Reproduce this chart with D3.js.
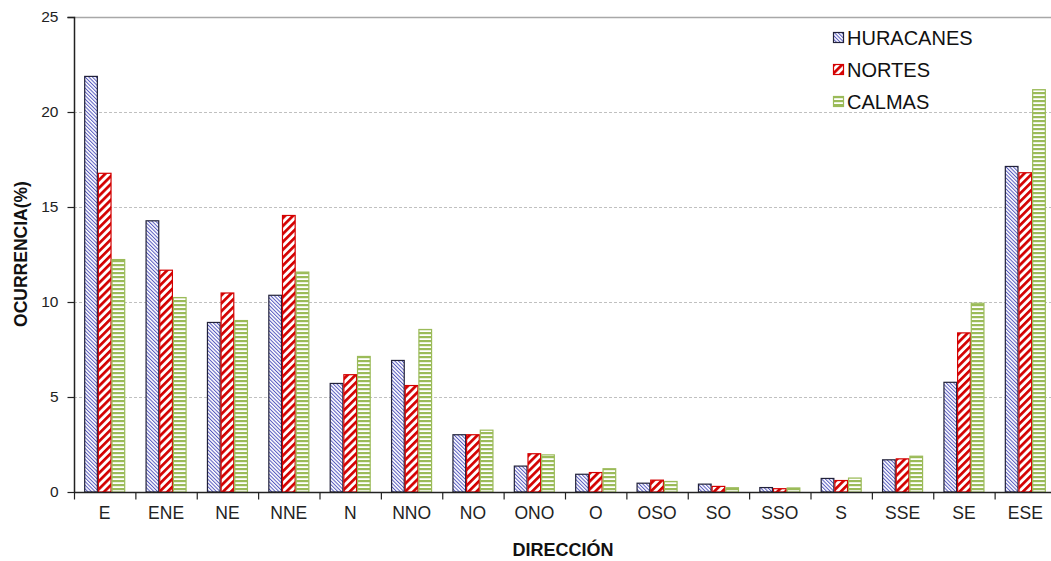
<!DOCTYPE html>
<html><head><meta charset="utf-8">
<script src="https://cdn.jsdelivr.net/npm/d3@7"></script>
<style>body{margin:0;background:#fff}svg{display:block;font-family:"Liberation Sans",Arial,sans-serif}</style>
</head><body><svg id="c" width="1051" height="561"></svg>
<script>
const categories = ["E","ENE","NE","NNE","N","NNO","NO","ONO","O","OSO","SO","SSO","S","SSE","SE","ESE"];
const seriesNames = ["HURACANES","NORTES","CALMAS"];
const huracanes = [21.9,14.3,8.95,10.38,5.74,6.95,3.04,1.39,0.96,0.49,0.44,0.26,0.74,1.72,5.8,17.16];
const nortes    = [16.8,11.7,10.5,14.58,6.2,5.63,3.04,2.04,1.05,0.65,0.32,0.2,0.63,1.77,8.4,16.83];
const calmas    = [12.26,10.26,9.05,11.6,7.16,8.58,3.28,1.98,1.25,0.58,0.25,0.24,0.76,1.91,9.96,21.2];
const yTicks = [0,5,10,15,20,25];

const svg = d3.select("#c");
const m = {l:74, t:17, b:492, r:1056};
const x = d3.scaleBand().domain(categories).range([m.l, m.r]).padding(0);
const xi = d3.scaleBand().domain(seriesNames).range([10.2, 51.2]).padding(0);
const y = d3.scaleLinear().domain([0,25]).range([m.b, m.t]);

const defs = svg.append("defs");
function pat(id, w, rot, draw){
  const p = defs.append("pattern").attr("id",id).attr("patternUnits","userSpaceOnUse")
    .attr("width",w).attr("height",w).attr("patternTransform", rot);
  p.append("rect").attr("width",w).attr("height",w).attr("fill","#fff");
  draw(p, w);
}
pat("pH", 2.6, "rotate(-45)", (p,w)=>p.append("line").attr("x1",0.5).attr("x2",0.5).attr("y1",0).attr("y2",w).attr("stroke","#5558c0").attr("stroke-width",1));
pat("pN", 5.6, "rotate(45)", (p,w)=>p.append("rect").attr("x",0).attr("y",0).attr("width",2.7).attr("height",w).attr("fill","#d40000"));
pat("pC", 4, "", (p,w)=>p.append("rect").attr("x",0).attr("y",0).attr("width",w).attr("height",2.2).attr("fill","#9bbb59"));
const fills = {HURACANES:"url(#pH)", NORTES:"url(#pN)", CALMAS:"url(#pC)"};
const strokes = {HURACANES:"#22223a", NORTES:"#d40000", CALMAS:"#9bbb59"};

// gridlines
svg.append("g").selectAll("line").data(yTicks.filter(d=>d>0 && d<25)).join("line")
  .attr("x1",m.l).attr("x2",m.r).attr("y1",d=>y(d)+0.5).attr("y2",d=>y(d)+0.5)
  .attr("stroke","#c0c0c0").attr("stroke-dasharray","3,2");
svg.append("line").attr("x1",m.l).attr("x2",m.r).attr("y1",y(25)+0.5).attr("y2",y(25)+0.5)
  .attr("stroke","#a8a8a8").attr("stroke-width",1.5);

// bars
const data = seriesNames.map((s,i)=>({s, v:[huracanes,nortes,calmas][i]}));
const g = svg.append("g");
data.forEach(sr=>{
  g.append("g").selectAll("rect").data(categories.map((c,j)=>({c, v:sr.v[j]}))).join("rect")
    .attr("x",d=>x(d.c)+xi(sr.s)+0.5).attr("width",xi.bandwidth()-1)
    .attr("y",d=>y(d.v)+0.5).attr("height",d=>y(0)-y(d.v)-0.5)
    .attr("fill",fills[sr.s]).attr("stroke",strokes[sr.s]).attr("stroke-width",1.2);
});

// y axis
const ya = svg.append("g").attr("transform",`translate(${m.l+0.5},0)`)
  .call(d3.axisLeft(y).tickValues(yTicks).tickSize(7).tickPadding(9).tickFormat(d3.format("d")));
ya.select(".domain").attr("stroke","#222").attr("stroke-width",1.5).attr("d",`M-7,${y(25)+0.5}H0V${y(0)}`);
ya.selectAll(".tick line").attr("stroke","#222").attr("stroke-width",1.2);
ya.selectAll(".tick text").attr("font-size",15.5).attr("fill","#222").attr("font-family","Liberation Sans, Arial, sans-serif");

// x axis
const xa = svg.append("g").attr("transform",`translate(0,${m.b+0.5})`)
  .call(d3.axisBottom(x).tickSize(0).tickPadding(14));
xa.select(".domain").attr("stroke","#222").attr("stroke-width",1.5).attr("d",`M${m.l},0H${m.r}`);
xa.selectAll(".tick text").attr("font-size",17.5).attr("fill","#222").attr("font-family","Liberation Sans, Arial, sans-serif");
xa.append("g").selectAll("line").data(categories).join("line")
  .attr("x1",d=>x(d)+0.5).attr("x2",d=>x(d)+0.5).attr("y1",0).attr("y2",7)
  .attr("stroke","#222").attr("stroke-width",1.2);

// titles
svg.append("text").attr("x",563).attr("y",556).attr("text-anchor","middle")
  .attr("font-weight","bold").attr("font-size",18).attr("fill","#111").text("DIRECCIÓN");
svg.append("text").attr("transform","translate(27,254) rotate(-90)").attr("text-anchor","middle")
  .attr("font-weight","bold").attr("font-size",17.5).attr("fill","#111").text("OCURRENCIA(%)");

// legend
const lg = svg.append("g").selectAll("g").data(seriesNames).join("g")
  .attr("transform",(d,i)=>`translate(833,${32+i*32})`);
lg.append("rect").attr("x",0.5).attr("y",0.5).attr("width",10).attr("height",10)
  .attr("fill",d=>fills[d]).attr("stroke",d=>strokes[d]).attr("stroke-width",1.2);
lg.append("text").attr("x",14).attr("y",12.5).attr("font-size",20).attr("fill","#111").text(d=>d);
</script></body></html>
